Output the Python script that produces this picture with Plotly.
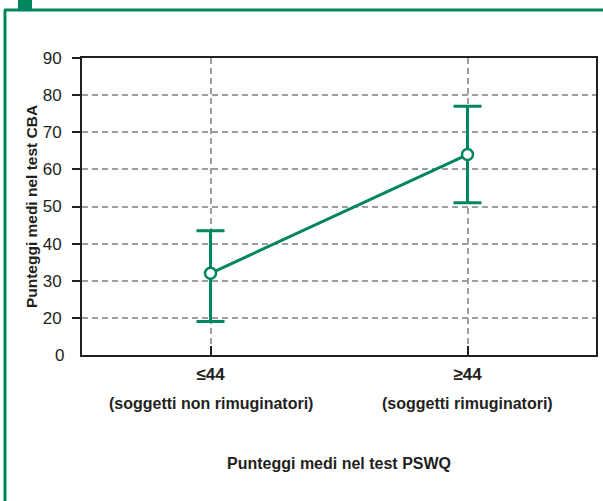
import plotly.graph_objects as go

# ---- data ----
categories = ["≤44", "≥44"]
category_notes = ["(soggetti non rimuginatori)", "(soggetti rimuginatori)"]
means = [32, 64]
err_plus = [11.5, 13]
err_minus = [13, 13]
y_tick_vals = [20, 30, 40, 50, 60, 70, 80, 90]
y_tick_text = ["20", "30", "40", "50", "60", "70", "80", "90"]
y_axis_floor = 10          # broken axis: the bottom of the axis is labelled "0"
y_floor_label = "0"

GREEN = "#00855f"
DARK = "#231f20"
GRID = "#9d9d9d"
FONT = "Liberation Sans, Arial, sans-serif"

W, H = 603, 501
L, R, T, B = 82, 7, 58, 146
pw, ph = W - L - R, H - T - B

def px(x):
    return (x - L) / pw

def py(y):
    return (H - B - y) / ph

xs = list(range(len(categories)))

fig = go.Figure()
fig.add_trace(go.Scatter(
    x=xs, y=means, mode="lines+markers",
    line=dict(color=GREEN, width=3),
    marker=dict(symbol="circle", size=11, color="white",
                line=dict(color=GREEN, width=2.5)),
    error_y=dict(type="data", symmetric=False, array=err_plus,
                 arrayminus=err_minus, color=GREEN, thickness=3, width=14),
    showlegend=False, cliponaxis=False,
))

# label of the axis floor (no tick mark there in the original)
fig.add_annotation(x=px(66), xref="paper", y=y_axis_floor, yref="y",
                   text=y_floor_label, showarrow=False,
                   font=dict(family=FONT, size=17, color=DARK),
                   xanchor="right", yanchor="middle")

for i, note in enumerate(category_notes):
    fig.add_annotation(x=xs[i], xref="x", y=py(403), yref="paper",
                       text=note, showarrow=False,
                       font=dict(family=FONT, size=16, color=DARK, weight="bold"),
                       xanchor="center", yanchor="middle")

fig.add_annotation(x=0.5, xref="paper", y=py(463), yref="paper",
                   text="Punteggi medi nel test PSWQ", showarrow=False,
                   font=dict(family=FONT, size=16, color=DARK, weight="bold"),
                   xanchor="center", yanchor="middle")

# green frame (left and top) and tab
fig.add_shape(type="line", xref="paper", yref="paper",
              x0=px(5), x1=px(5), y0=py(10), y1=py(520),
              line=dict(color=GREEN, width=3))
fig.add_shape(type="line", xref="paper", yref="paper",
              x0=px(4), x1=px(620), y0=py(10), y1=py(10),
              line=dict(color=GREEN, width=3))
fig.add_shape(type="rect", xref="paper", yref="paper",
              x0=px(18), x1=px(32), y0=py(-2), y1=py(9),
              line=dict(width=0), fillcolor=GREEN)

fig.update_xaxes(
    range=[-0.5, 1.5], tickvals=xs, ticktext=categories,
    ticks="inside", ticklen=9, tickwidth=2, tickcolor=DARK,
    showline=True, linecolor=DARK, linewidth=2, mirror=True,
    showgrid=True, gridcolor=GRID, gridwidth=2, griddash="6px,4px",
    zeroline=False,
    tickfont=dict(family=FONT, size=17, color=DARK, weight="bold"),
    ticklabelstandoff=3,
)
fig.update_yaxes(
    range=[y_axis_floor, 90], tickvals=y_tick_vals, ticktext=y_tick_text,
    ticks="outside", ticklen=8, tickwidth=2, tickcolor=DARK,
    showline=True, linecolor=DARK, linewidth=2, mirror=True,
    showgrid=True, gridcolor=GRID, gridwidth=2, griddash="6px,4px",
    zeroline=False,
    tickfont=dict(family=FONT, size=17, color=DARK),
    ticklabelstandoff=7,
    title=dict(text="Punteggi medi nel test CBA", standoff=1,
               font=dict(family=FONT, size=15.5, color=DARK, weight="bold")),
)

fig.update_layout(
    width=W, height=H,
    margin=dict(l=L, r=R, t=T, b=B, autoexpand=False),
    paper_bgcolor="white", plot_bgcolor="white",
)

fig.write_html("out.html", config={"displayModeBar": False},
               post_script="document.body.style.margin='0';")
